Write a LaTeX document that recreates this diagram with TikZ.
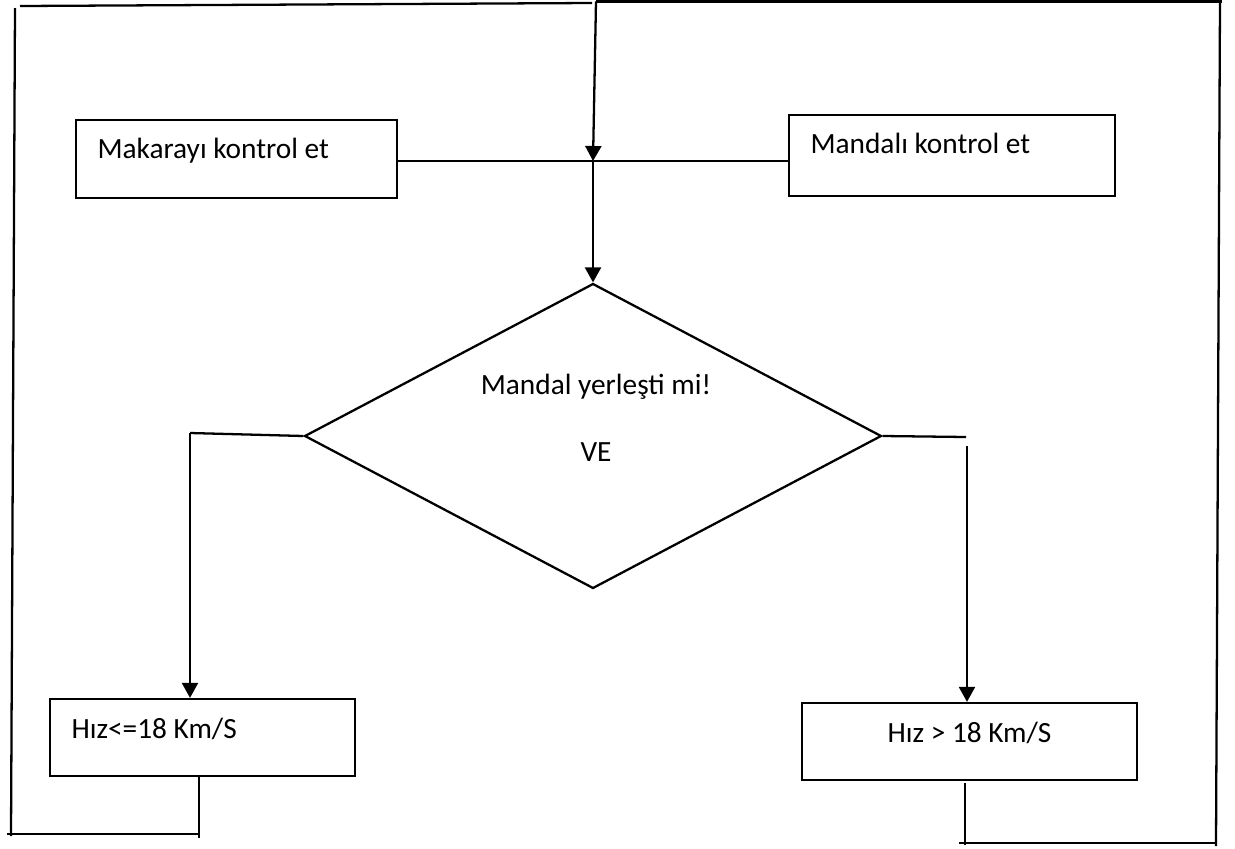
\documentclass[tikz,border=0pt]{standalone}
\usepackage{fontspec}
\setmainfont{Carlito}
\usetikzlibrary{positioning,shapes.geometric,arrows.meta}

\begin{document}
\begin{tikzpicture}[
    x=0.02cm, y=-0.02cm,
    font=\fontsize{16.7}{19}\selectfont,
    box/.style={draw, line width=1.3pt, inner xsep=0.43cm, inner ysep=0pt, align=flush left},
    decision/.style={diamond, draw, line width=1.3pt, inner sep=0pt, minimum width=11.54cm, minimum height=6.1cm},
    line/.style={line width=1.3pt},
    arrow/.style={line width=1.3pt, -{Triangle[width=0.32cm, length=0.3cm]}}
]
\useasboundingbox (0,0) rectangle (1235,849);

% Top level: the two checks
\node[box, text width=5.56cm, text height=0.76cm, text depth=0.8cm] (makara) at (236.5,159) {Makarayı kontrol et};
\node[box, text width=5.66cm, text height=0.76cm, text depth=0.86cm] (mandal) at (952,155.5) {Mandalı kontrol et};

% Middle level: the decision
\node[decision] (dia) at (593,436) {};
\node[align=center] (cond) at (596,418) {Mandal yerleşti mi!\\[\baselineskip]VE};

% Bottom level: the two speeds
\node[box, text width=5.24cm, text height=0.78cm, text depth=0.76cm] (hizlow) at (202.5,737.5) {Hız<=18 Km/S};
\node[box, align=flush center, text width=5.84cm, text height=0.78cm, text depth=0.76cm] (hizhigh) at (969.5,741.5) {Hız > 18 Km/S};

% Corner points
\coordinate (topin) at (596,1.5);
\coordinate (jn) at (593,161);
\coordinate (lc) at (190,433);
\coordinate (rc) at (966,437);
\coordinate (rc2) at (967,446);
\coordinate (lb1) at (199,838);
\coordinate (lb2) at (199,834);
\coordinate (lb3) at (7,834);
\coordinate (lb4) at (11,836);
\coordinate (lb5) at (15,8);
\coordinate (lb6) at (20,6);
\coordinate (lb7) at (592,3);
\coordinate (rb0) at (965,783);
\coordinate (rb1) at (965,845);
\coordinate (rb2) at (959,843);
\coordinate (rb3) at (1216,843);
\coordinate (rb4) at (1216,846);
\coordinate (rb5) at (1220,1.5);
\coordinate (rb6) at (1222,1.5);

% Checks into the decision
\draw[line] (makara.east |- jn) -- (mandal.west |- jn);
\draw[arrow] (topin) -- (jn);
\draw[arrow] (jn) -- (dia.north);

% Decision to the speeds
\draw[line] (dia.west) -- (lc);
\draw[arrow] (lc) -- (lc |- hizlow.north);
\draw[line] (dia.east) -- (rc);
\draw[arrow] (rc2) -- (rc2 |- hizhigh.north);

% Loop back on the left
\draw[line] (hizlow.south -| lb1) -- (lb1);
\draw[line] (lb2) -- (lb3);
\draw[line] (lb4) -- (lb5);
\draw[line] (lb6) -- (lb7);

% Loop back on the right
\draw[line] (rb0) -- (rb1);
\draw[line] (rb2) -- (rb3);
\draw[line] (rb4) -- (rb5);
\draw[line] (rb6) -- (topin);

\end{tikzpicture}
\end{document}
